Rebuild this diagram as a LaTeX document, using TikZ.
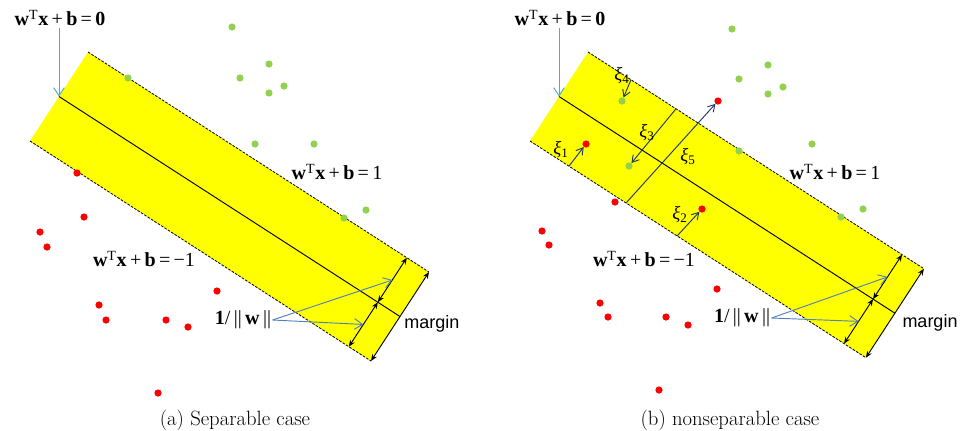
\documentclass[tikz,border=0pt]{standalone}
\usepackage{fontspec}
\newfontfamily\eqfont{Liberation Serif}
\newfontfamily\marginfont{Liberation Sans}
\usetikzlibrary{arrows.meta, calc}
\definecolor{bandyellow}{RGB}{255,255,0}
\definecolor{ptgreen}{RGB}{146,208,80}
\definecolor{ptred}{RGB}{255,0,0}
\definecolor{pointerblue}{RGB}{75,172,198}
\definecolor{wblue}{RGB}{79,129,189}
\definecolor{xinavy}{RGB}{31,56,100}
\tikzset{
  greenpt/.style={circle, fill=ptgreen, inner sep=0pt, minimum size=5.4pt},
  redpt/.style={circle, fill=ptred, inner sep=0pt, minimum size=5.4pt},
  eq/.style={font=\eqfont\fontsize{15}{18}\selectfont, inner sep=1pt},
  xilabel/.style={font=\eqfont\itshape\fontsize{14}{16}\selectfont, inner sep=0pt},
  marginlabel/.style={font=\marginfont\fontsize{13.5}{16}\selectfont, inner sep=1pt},
  caption/.style={font=\fontsize{15.5}{18}\selectfont, inner sep=0pt},
  edge/.style={line width=0.6pt, dash pattern=on 2pt off 1pt},
  dim/.style={{Stealth[length=5pt,width=4pt]}-{Stealth[length=5pt,width=4pt]}, line width=0.7pt},
  pointer/.style={-{Straight Barb[length=6pt,width=8pt]}, pointerblue, line width=0.7pt},
  wpointer/.style={-{Straight Barb[length=6pt,width=8pt]}, wblue, line width=0.7pt},
  xiarrow/.style={-{Straight Barb[length=5pt,width=6pt]}, xinavy, line width=0.7pt}
}
% w^T x + b = #1
\newcommand{\eqn}[1]{\textbf{w}\textsuperscript{T}\textbf{x}\,+\,\textbf{b}\,=\,#1}
% slack label
\newcommand{\xisub}[1]{ξ\textsubscript{\upshape #1}}
% margin band, #1 = length factor
\newcommand{\svmband}[1]{%
  \coordinate (BL) at (30,141);
  \coordinate (TL) at (88,52);
  \coordinate (BR) at ($(BL)+#1*(341,220)$);
  \coordinate (TR) at ($(TL)+#1*(341,220)$);
  \fill[bandyellow] (BL) -- (TL) -- (TR) -- (BR) -- cycle;
  \draw[edge] (TL) -- (TR);
  \draw[edge] (BL) -- (BR);
  \coordinate (ML) at ($(BL)!.5!(TL)$);
  \coordinate (MR) at ($(BR)!.5!(TR)$);
  \draw[line width=0.7pt] (ML) -- (MR);
  \draw[dim] (BR) -- (TR);
  \coordinate (CB) at ($(BL)!.935!(BR)$);
  \coordinate (CT) at ($(TL)!.935!(TR)$);
  \coordinate (CM) at ($(CB)!.5!(CT)$);
  \draw[dim] (CB) -- (CM);
  \draw[dim] (CM) -- (CT);
  \coordinate (WT) at ($(CM)!.5!(CT)$);
  \coordinate (WB) at ($(CB)!.5!(CM)$);
}

\begin{document}
\begin{tikzpicture}[x=0.75pt, y=-0.75pt]
  \useasboundingbox (0,0) rectangle (960,430);

  % (a) separable
  \begin{scope}[name prefix=a-]
    \svmband{1}
    \node[eq] (eq0) at (60,18) {\eqn{\textbf{0}}};
    \draw[pointer] (ML |- eq0.south) -- (ML);
    \node[eq] (eq1) at (337,172) {\eqn{1}};
    \node[eq] (eqm1) at (144,259) {\eqn{−1}};
    \node[eq] (winv) at (243,320) {\textbf{1}/\,||\,\textbf{w}\,||};
    \node[marginlabel] (margin) at (432,324) {margin};
    \draw[wpointer] (winv.east) -- (WT);
    \draw[wpointer] (winv.east) -- (WB);
    \foreach \x/\y [count=\i] in {232/27, 128/78, 240/78, 269/64, 284/86,
        269/93, 255/144, 314/144, 344/218, 366/210}
      \node[greenpt] (g\i) at (\x,\y) {};
    \foreach \x/\y [count=\i] in {77/173, 84/217, 40/232, 47/247, 217/291,
        99/305, 106/320, 166/320, 188/327, 158/393}
      \node[redpt] (r\i) at (\x,\y) {};
    \node[caption] (cap) at (235,420) {(a) Separable case};
  \end{scope}

  % (b) nonseparable
  \begin{scope}[shift={(500,0)}, name prefix=b-]
    \svmband{0.985}
    \node[eq] (eq0) at (60,18) {\eqn{\textbf{0}}};
    \draw[pointer] (ML |- eq0.south) -- (ML);
    \node[eq] (eq1) at (335,172) {\eqn{1}};
    \node[eq] (eqm1) at (144,259) {\eqn{−1}};
    \node[eq] (winv) at (242,318) {\textbf{1}/\,||\,\textbf{w}\,||};
    \node[marginlabel] (margin) at (430,323) {margin};
    \draw[wpointer] (winv.east) -- (WT);
    \draw[wpointer] (winv.east) -- (WB);
    \foreach \x/\y [count=\i] in {232/29, 239/79, 268/65, 283/87, 268/94,
        239/151, 312/144, 341/217, 363/209}
      \node[greenpt] (g\i) at (\x,\y) {};
    \foreach \x/\y [count=\i] in {115/202, 42/231, 49/245, 217/289, 100/303,
        108/317, 166/317, 188/325, 159/390}
      \node[redpt] (r\i) at (\x,\y) {};
    % slack points
    \node[redpt] (p1) at (86,144) {};
    \node[redpt] (p2) at (202,209) {};
    \node[greenpt] (p3) at (129,166) {};
    \node[greenpt] (p4) at (122,101) {};
    \node[redpt] (p5) at (218,101) {};
    \coordinate (s1) at ($(BL)!.116!(BR)$);
    \coordinate (s2) at ($(BL)!.438!(BR)$);
    \coordinate (s3) at ($(TL)!.262!(TR)$);
    \coordinate (s4) at ($(TL)!.128!(TR)$);
    \coordinate (s5) at ($(BL)!.286!(BR)$);
    \foreach \i in {1,...,5}
      \draw[xiarrow] (s\i) -- (p\i);
    \node[xilabel] (xi1) at (61,150) {\xisub{1}};
    \node[xilabel] (xi2) at (180,215) {\xisub{2}};
    \node[xilabel] (xi3) at (147,133) {\xisub{3}};
    \node[xilabel] (xi4) at (122,76) {\xisub{4}};
    \node[xilabel] (xi5) at (188,157) {\xisub{5}};
    \node[caption] (cap) at (230,420) {(b) nonseparable case};
  \end{scope}
\end{tikzpicture}
\end{document}
